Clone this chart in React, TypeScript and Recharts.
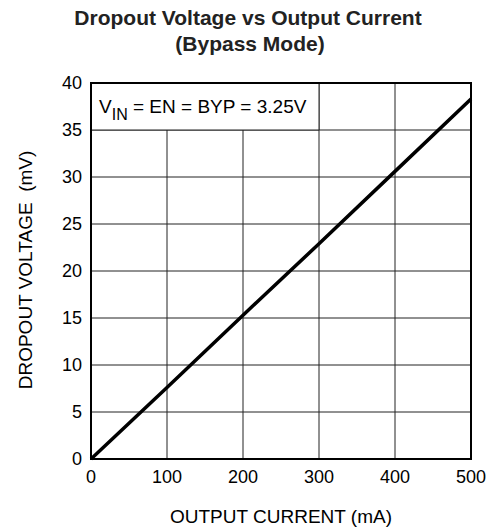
import React from "react";
import {
  LineChart,
  Line,
  XAxis,
  YAxis,
  CartesianGrid,
  ReferenceArea,
} from "recharts";

const currentMA = [0, 100, 200, 300, 400, 500];
const dropoutMV = [0, 7.6, 15.3, 22.9, 30.6, 38.3];
const xTicks = [0, 100, 200, 300, 400, 500];
const yTicks = [0, 5, 10, 15, 20, 25, 30, 35, 40];
const titleLines = ["Dropout Voltage vs Output Current", "(Bypass Mode)"];
const xLabel = "OUTPUT CURRENT (mA)";
const yLabel = "DROPOUT VOLTAGE  (mV)";
const noteMain = "V";
const noteSub = "IN";
const noteRest = " = EN = BYP = 3.25V";

const data = currentMA.map((c, i) => ({ c, v: dropoutMV[i] }));

const FONT = "'Liberation Sans', Arial, Helvetica, sans-serif";

const renderNote = (props: any) => {
  const vb = props.viewBox || {};
  const x = vb.x + 8;
  const y = vb.y + 30;
  return (
    <text x={x} y={y} fontFamily={FONT} fontSize={19} fill="#000">
      <tspan>{noteMain}</tspan>
      <tspan dy={7} fontSize={16}>{noteSub}</tspan>
      <tspan dy={-7}>{noteRest}</tspan>
    </text>
  );
};

const renderXLabel = (props: any) => {
  const vb = props.viewBox || {};
  return (
    <text
      x={vb.x + vb.width / 2}
      y={523}
      textAnchor="middle"
      fontFamily={FONT}
      fontSize={19}
      fill="#000"
    >
      {xLabel}
    </text>
  );
};

const renderYLabel = () => {
  const cy = 270;
  const cx = 32;
  return (
    <text
      x={cx}
      y={cy}
      transform={`rotate(-90 ${cx} ${cy})`}
      textAnchor="middle"
      fontFamily={FONT}
      fontSize={19}
      fill="#000"
      style={{ whiteSpace: "pre" }}
    >
      {yLabel}
    </text>
  );
};

export default function App() {
  return (
    <div
      style={{
        position: "absolute",
        left: 0,
        top: 0,
        width: 497,
        height: 529,
        background: "#fff",
      }}
    >
      <div style={{ position: "absolute", left: 0, top: 0 }}>
        <LineChart
          width={497}
          height={529}
          data={data}
          margin={{ top: 83, right: 26, left: 0, bottom: 0 }}
        >
          <CartesianGrid stroke="#222" strokeWidth={1} />
          <XAxis
            dataKey="c"
            type="number"
            domain={[0, 500]}
            ticks={xTicks}
            tickLine={false}
            axisLine={{ stroke: "#000", strokeWidth: 2 }}
            tick={{ fill: "#000", fontSize: 18, fontFamily: FONT }}
            tickSize={0}
            tickMargin={11}
            height={70}
            interval={0}
            label={renderXLabel}
          />
          <YAxis
            type="number"
            domain={[0, 40]}
            ticks={yTicks}
            tickLine={false}
            axisLine={{ stroke: "#000", strokeWidth: 2 }}
            tick={{ fill: "#000", fontSize: 18, fontFamily: FONT }}
            tickSize={0}
            tickMargin={9}
            width={91}
            interval={0}
            label={renderYLabel}
          />
          <ReferenceArea
            x1={0}
            x2={300}
            y1={35}
            y2={40}
            fill="#fff"
            fillOpacity={1}
            stroke="#222"
            strokeWidth={1}
            label={renderNote}
            ifOverflow="visible"
          />
          <ReferenceArea
            x1={0}
            x2={500}
            y1={0}
            y2={40}
            fill="none"
            stroke="#000"
            strokeWidth={2}
            ifOverflow="visible"
          />
          <Line
            dataKey="v"
            type="linear"
            stroke="#000"
            strokeWidth={3.5}
            dot={false}
            isAnimationActive={false}
          />
        </LineChart>
      </div>
      <svg
        width={497}
        height={70}
        style={{ position: "absolute", left: 0, top: 0 }}
      >
        <text
          x={248}
          y={25}
          textAnchor="middle"
          fontFamily={FONT}
          fontWeight="bold"
          fontSize={21}
          fill="#222"
        >
          {titleLines[0]}
        </text>
        <text
          x={250}
          y={51}
          textAnchor="middle"
          fontFamily={FONT}
          fontWeight="bold"
          fontSize={21}
          fill="#222"
        >
          {titleLines[1]}
        </text>
      </svg>
    </div>
  );
}
